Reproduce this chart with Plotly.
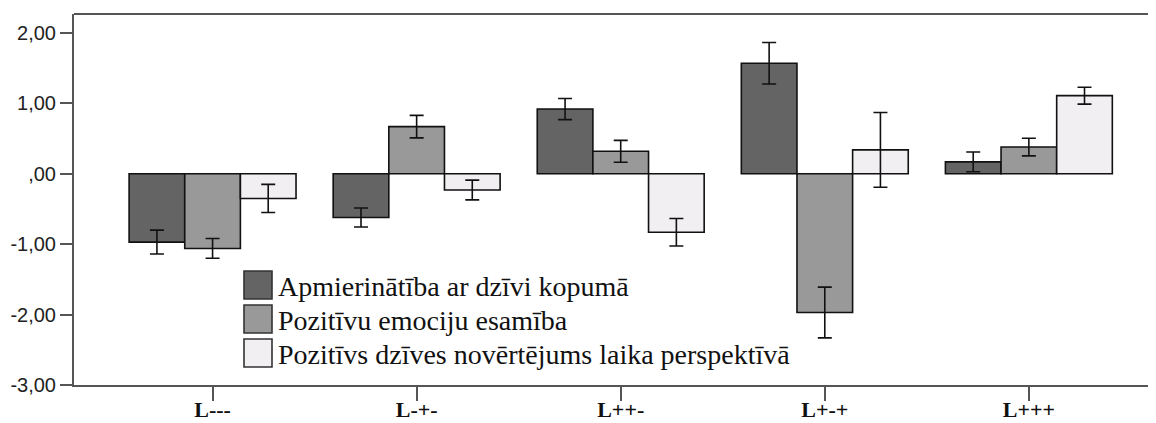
import plotly.graph_objects as go

categories = ["L---", "L-+-", "L++-", "L+-+", "L+++"]
series_names = [
    "Apmierinātība ar dzīvi kopumā",
    "Pozitīvu emociju esamība",
    "Pozitīvs dzīves novērtējums laika perspektīvā",
]
satisfaction = [-0.97, -0.62, 0.92, 1.57, 0.17]
satisfaction_err = [0.17, 0.135, 0.15, 0.295, 0.14]
emotions = [-1.06, 0.67, 0.32, -1.97, 0.38]
emotions_err = [0.14, 0.16, 0.155, 0.36, 0.125]
perspective = [-0.35, -0.23, -0.83, 0.34, 1.11]
perspective_err = [0.20, 0.14, 0.195, 0.53, 0.12]
colors = ["#646464", "#999999", "#f1eff1"]
ytick_vals = [2, 1, 0, -1, -2, -3]
ytick_text = ["2,00", "1,00", ",00", "-1,00", "-2,00", "-3,00"]

# page body has an 8px margin
OFF = 8
W, H = 1156 - OFF, 423 - OFF
L, T, B, R = 74 - OFF, 14 - OFF, 38, 0
PW, PH = W - L - R, H - T - B

fig = go.Figure()
for name, vals, errs, col in zip(series_names,
                                 [satisfaction, emotions, perspective],
                                 [satisfaction_err, emotions_err, perspective_err],
                                 colors):
    fig.add_trace(go.Bar(
        x=categories, y=vals, name=name,
        marker=dict(color=col, line=dict(color="#111111", width=1.6)),
        error_y=dict(type="data", array=errs, visible=True,
                     color="#111111", thickness=1.6, width=7),
        showlegend=False,
    ))

def px(x):
    return (x - OFF - L) / PW

def py(y):
    return (T + PH - (y - OFF)) / PH

shapes = [dict(type="line", xref="paper", yref="paper", x0=0, x1=1, y0=1, y1=1,
               line=dict(color="#555555", width=2))]
annotations = []
row_tops = [271, 305, 339]
for name, col, top in zip(series_names, colors, row_tops):
    shapes.append(dict(type="rect", xref="paper", yref="paper",
                       x0=px(244), x1=px(272), y0=py(top + 28), y1=py(top),
                       fillcolor=col, line=dict(color="#333333", width=1.6)))
    annotations.append(dict(xref="paper", yref="paper", x=px(276), y=py(top + 15),
                            text=name, showarrow=False, xanchor="left", yanchor="middle",
                            font=dict(family="Liberation Serif", size=28, color="#111111")))

fig.update_layout(
    width=W, height=H,
    margin=dict(l=L, r=R, t=T, b=B),
    paper_bgcolor="white", plot_bgcolor="white",
    barmode="group", bargap=0.182, bargroupgap=0,
    shapes=shapes, annotations=annotations,
    xaxis=dict(range=[-0.679, 4.623], showgrid=False, zeroline=False,
               automargin=False,
               showline=True, linecolor="#555555", linewidth=2,
               ticks="outside", ticklen=14, tickwidth=2, tickcolor="#555555",
               ticklabelstandoff=-10,
               tickfont=dict(family="Liberation Serif", size=22, color="#111111"),
               tickprefix="<b>", ticksuffix="</b>"),
    yaxis=dict(range=[-3, 2.27], showgrid=False, zeroline=False,
               automargin=False,
               showline=True, linecolor="#555555", linewidth=2,
               ticks="outside", ticklen=12, tickwidth=2, tickcolor="#555555",
               tickvals=ytick_vals, ticktext=ytick_text,
               tickfont=dict(family="Liberation Sans", size=20, color="#222222")),
)

fig.write_html("out.html")
